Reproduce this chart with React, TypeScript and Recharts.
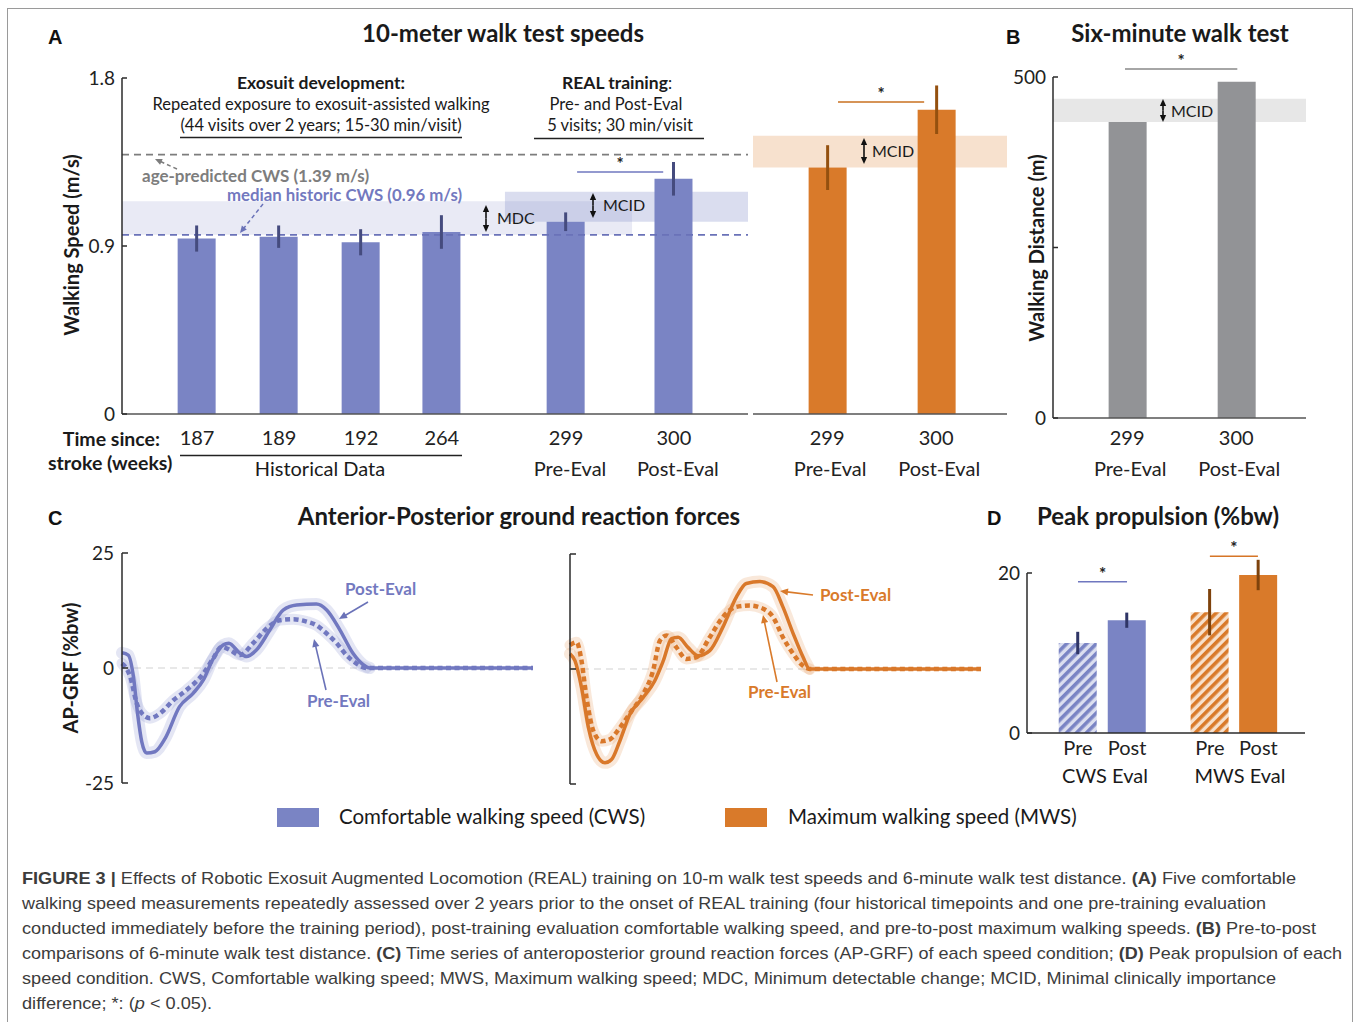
import React from 'react';
import {
  ComposedChart, LineChart, Bar, Line, XAxis, YAxis, ErrorBar, Cell,
  ReferenceLine, ReferenceArea,
} from 'recharts';

// ---------- data ----------
const cwsWeeks = ['187', '189', '192', '264', '299', '300'];
const cwsPhases = ['', '', '', '', 'Pre-Eval', 'Post-Eval'];
const cwsSpeed = [0.94, 0.95, 0.92, 0.975, 1.03, 1.26];
const cwsSpeedSd = [0.07, 0.06, 0.07, 0.09, 0.05, 0.09];

const mwsWeeks = ['299', '300'];
const mwsPhases = ['Pre-Eval', 'Post-Eval'];
const mwsSpeed = [1.32, 1.63];
const mwsSpeedSd = [0.12, 0.13];

const sixMinWeeks = ['299', '300'];
const sixMinPhases = ['Pre-Eval', 'Post-Eval'];
const sixMinDist = [434, 493];

const ageCws = 1.39;
const medianCws = 0.96;
const cwsMdcBand = [0.96, 1.14];
const cwsMcidBand = [1.03, 1.19];
const mwsMcidBand = [1.32, 1.49];
const sixMinMcidBand = [434, 468];

const peakLabels = ['Pre', 'Post', 'Pre', 'Post'];
const peakCws = [11.25, 14.1];
const peakCwsSd = [1.4, 0.95];
const peakMws = [15.1, 19.75];
const peakMwsSd = [2.9, 1.9];

// AP-GRF (%bw) over % gait cycle
const cwsPostPct = [0, 1.5, 2.8, 3.8, 4.8, 6, 8, 10.5, 14, 17.3, 19.8, 22, 24.6, 26, 28.7, 30.3, 32.7, 36, 39.2, 42.5, 47.3, 49.8, 53, 56.2, 58.7, 60.3, 100];
const cwsPostGrf = [3.3, 2.8, -2, -10, -16, -18.5, -18.2, -15.3, -8.4, -5.5, -2.6, 1.7, 5, 5.4, 3.2, 2.5, 3.9, 8.3, 12.6, 13.7, 13.9, 12.6, 8.3, 3.2, 0.7, 0, 0];
const cwsPrePct = [0, 2, 3.6, 5.2, 6.8, 9.2, 12.5, 15.7, 19.8, 22.2, 24.2, 26.3, 28.7, 31.9, 35.2, 38.4, 41.7, 44.9, 47.3, 49.8, 52.2, 54.6, 57, 59.5, 100];
const cwsPreGrf = [1, -1.9, -7.7, -10.2, -10.9, -9.9, -7, -4.8, -1.2, 2.1, 4.6, 3.9, 2.8, 5.4, 8.6, 10.4, 10.6, 10.1, 9.3, 7.5, 5.4, 2.8, 1, 0, 0];
const mwsPostPct = [0, 1.2, 2.8, 4.5, 6.5, 8.5, 10.1, 12.1, 14.6, 17.8, 20.6, 22.7, 24.7, 26.3, 28.7, 31.2, 34, 37.2, 40.5, 42.9, 46.2, 49.4, 51.8, 54.3, 56.7, 58.3, 100];
const mwsPostGrf = [3.3, 1.8, -4, -12.8, -18.6, -20.4, -19.7, -15.7, -9.8, -6.2, -2.6, 1.8, 6.6, 6.9, 4.7, 2.9, 4, 9.1, 15.7, 18.6, 19, 17.9, 13.5, 7.7, 2.6, 0, 0];
const mwsPrePct = [0, 1.6, 2.8, 4, 5.7, 7.7, 9.7, 12.1, 15, 17.8, 20.2, 21.9, 23.5, 25.9, 28.3, 30.8, 34, 37.2, 40.5, 43.7, 47, 49.4, 51.8, 54.3, 56.7, 58.3, 100];
const mwsPreGrf = [5.2, 5.8, 1.8, -6.2, -13.5, -15.7, -15.3, -12.8, -9.1, -5.5, -0.4, 6.2, 7.3, 4.7, 2.2, 2.6, 6.9, 11.3, 13.5, 13.8, 13.1, 11.3, 6.9, 3.3, 0.7, 0, 0];

// ---------- layout (bar slots on numeric axes) ----------
const SLOTS_A = [0.915, 1.915, 2.915, 3.9, 5.415, 6.73];
const SLOTS_2 = [0.68, 1.68];
const SLOTS_D = [1.04, 2.04, 3.73, 4.72];

const FONT = 'Lato, "Open Sans", "DejaVu Sans", sans-serif';
const BLUE = '#7a84c4';
const BLUE_TXT = '#7379bf';
const ORANGE = '#d97a2a';
const GRAY = '#929396';
const AXIS = { stroke: '#2b2b2b', strokeWidth: 1.5 };
const Y_TICK = { fontSize: 19, fill: '#222', fontFamily: FONT };

const cwsData = cwsWeeks.map((w, i) => ({ slot: SLOTS_A[i], speed: cwsSpeed[i], sd: cwsSpeedSd[i] }));
const mwsData = mwsWeeks.map((w, i) => ({ slot: SLOTS_2[i], speed: mwsSpeed[i], sd: mwsSpeedSd[i] }));
const sixData = sixMinWeeks.map((w, i) => ({ slot: SLOTS_2[i], dist: sixMinDist[i] }));
const peakData = peakLabels.map((l, i) => ({
  slot: SLOTS_D[i],
  value: i < 2 ? peakCws[i] : peakMws[i - 2],
  cwsSd: i < 2 ? peakCwsSd[i] : undefined,
  mwsSd: i >= 2 ? peakMwsSd[i - 2] : undefined,
}));
const peakFills = ['url(#hatchBlue)', BLUE, 'url(#hatchOrange)', ORANGE];

const pts = (pct: number[], grf: number[]) => pct.map((p, i) => ({ pct: p, grf: grf[i] }));
const cwsPost = pts(cwsPostPct, cwsPostGrf);
const cwsPre = pts(cwsPrePct, cwsPreGrf);
const mwsPost = pts(mwsPostPct, mwsPostGrf);
const mwsPre = pts(mwsPrePct, mwsPreGrf);

const star = { value: '*', position: 'top' as const, fill: '#222', fontSize: 17, fontWeight: 700, offset: 2 };

function Place({ left, top, children }: any) {
  return <div style={{ position: 'absolute', left, top }}>{children}</div>;
}

function TwoLineTick(props: any) {
  const { x, y, payload, slots, top, bottom, dy1, dy2, dx2 = 0 } = props;
  const i = slots.indexOf(payload.value);
  if (i < 0) return null;
  return (
    <g>
      <text x={x} y={y + dy1} textAnchor="middle" fontSize={20} fill="#222" fontFamily={FONT}>{top[i]}</text>
      {bottom && bottom[i] ? (
        <text x={x + dx2} y={y + dy2} textAnchor="middle" fontSize={20} fill="#222" fontFamily={FONT}>{bottom[i]}</text>
      ) : null}
    </g>
  );
}

function ChartCws() {
  return (
    <ComposedChart width={696} height={426} data={cwsData} margin={{ top: 20, right: 10, left: 0, bottom: 0 }}>
      <XAxis dataKey="slot" type="number" domain={[0, 7.634]} ticks={SLOTS_A} interval={0} height={70}
        tickLine={false} tickSize={0} tickMargin={0} axisLine={{ stroke: '#555', strokeWidth: 1.5 }}
        tick={(p: any) => <TwoLineTick {...p} slots={SLOTS_A} top={cwsWeeks} bottom={cwsPhases} dy1={31} dy2={62} dx2={4} />} />
      <YAxis type="number" domain={[0, 1.8]} ticks={[0, 0.9, 1.8]} interval={0} width={60} tickSize={-5} tickMargin={12}
        axisLine={AXIS} tickLine={AXIS} tick={Y_TICK} />
      <ReferenceArea x1={0} x2={6.22} y1={cwsMdcBand[0]} y2={cwsMdcBand[1]} fill="#9aa0d0" fillOpacity={0.22} stroke="none" />
      <ReferenceArea x1={4.67} x2={7.634} y1={cwsMcidBand[0]} y2={cwsMcidBand[1]} fill="#8d94cc" fillOpacity={0.32} stroke="none" />
      <ReferenceLine y={ageCws} stroke="#7d7d7d" strokeWidth={1.8} strokeDasharray="7 5" />
      <ReferenceLine y={medianCws} stroke="#6a72b8" strokeWidth={1.8} strokeDasharray="7 5" />
      <Bar dataKey="speed" fill={BLUE} barSize={38} isAnimationActive={false}>
        <ErrorBar dataKey="sd" width={0} stroke="#454b7e" strokeWidth={3} />
      </Bar>
      <ReferenceLine segment={[{ x: 5.55, y: 1.296 }, { x: 6.6, y: 1.296 }]} stroke="#6f77bf" strokeWidth={1.5} label={star} />
    </ComposedChart>
  );
}

function ChartMws() {
  return (
    <ComposedChart width={324} height={436} data={mwsData} margin={{ top: 30, right: 10, left: 60, bottom: 0 }}>
      <XAxis dataKey="slot" type="number" domain={[0, 2.33]} ticks={SLOTS_2} interval={0} height={70}
        tickLine={false} tickSize={0} tickMargin={0} axisLine={{ stroke: '#555', strokeWidth: 1.5 }}
        tick={(p: any) => <TwoLineTick {...p} slots={SLOTS_2} top={mwsWeeks} bottom={mwsPhases} dy1={31} dy2={62} dx2={3} />} />
      <YAxis type="number" domain={[0, 1.8]} hide />
      <ReferenceArea y1={mwsMcidBand[0]} y2={mwsMcidBand[1]} fill="#e59a5c" fillOpacity={0.3} stroke="none" />
      <Bar dataKey="speed" fill={ORANGE} barSize={38} isAnimationActive={false}>
        <ErrorBar dataKey="sd" width={0} stroke="#94500f" strokeWidth={3} />
      </Bar>
      <ReferenceLine segment={[{ x: 0.78, y: 1.671 }, { x: 1.57, y: 1.671 }]} stroke="#c8701f" strokeWidth={1.5} label={star} />
    </ComposedChart>
  );
}

function ChartSix() {
  return (
    <ComposedChart width={323} height={451} data={sixData} margin={{ top: 40, right: 10, left: 0, bottom: 0 }}>
      <XAxis dataKey="slot" type="number" domain={[0, 2.32]} ticks={SLOTS_2} interval={0} height={70}
        tickLine={false} tickSize={0} tickMargin={0} axisLine={{ stroke: '#555', strokeWidth: 1.5 }}
        tick={(p: any) => <TwoLineTick {...p} slots={SLOTS_2} top={sixMinWeeks} bottom={sixMinPhases} dy1={27} dy2={58} dx2={3} />} />
      <YAxis type="number" domain={[0, 500]} ticks={[0, 250, 500]} interval={0} width={60} tickSize={-5} tickMargin={12}
        axisLine={AXIS} tickLine={AXIS} tick={Y_TICK} tickFormatter={(v: number) => (v === 250 ? '' : String(v))} />
      <ReferenceArea y1={sixMinMcidBand[0]} y2={sixMinMcidBand[1]} fill="#888" fillOpacity={0.2} stroke="none" />
      <Bar dataKey="dist" fill={GRAY} barSize={38} isAnimationActive={false} />
      <ReferenceLine segment={[{ x: 0.66, y: 511.7 }, { x: 1.69, y: 511.7 }]} stroke="#888" strokeWidth={1.5}
        ifOverflow="visible" label={star} />
    </ComposedChart>
  );
}

function ChartPeak() {
  return (
    <ComposedChart width={348} height={250} data={peakData} margin={{ top: 30, right: 10, left: 0, bottom: 0 }}>
      <defs>
        <pattern id="hatchBlue" width="7" height="7" patternUnits="userSpaceOnUse" patternTransform="rotate(45)">
          <rect width="7" height="7" fill="#dcdff0" />
          <rect width="3.6" height="7" fill={BLUE} />
        </pattern>
        <pattern id="hatchOrange" width="7" height="7" patternUnits="userSpaceOnUse" patternTransform="rotate(45)">
          <rect width="7" height="7" fill="#f7e0cb" />
          <rect width="3.6" height="7" fill={ORANGE} />
        </pattern>
      </defs>
      <XAxis dataKey="slot" type="number" domain={[0, 5.67]} ticks={SLOTS_D} interval={0} height={40}
        tickLine={false} tickSize={0} tickMargin={0} axisLine={AXIS}
        tick={(p: any) => <TwoLineTick {...p} slots={SLOTS_D} top={peakLabels} dy1={22} />} />
      <YAxis type="number" domain={[0, 22.5]} ticks={[0, 20]} interval={0} width={60} tickSize={-5} tickMargin={12}
        axisLine={false} tickLine={AXIS} tick={Y_TICK} />
      <ReferenceLine segment={[{ x: 0, y: 0 }, { x: 0, y: 20 }]} stroke="#2b2b2b" strokeWidth={1.5} />
      <Bar dataKey="value" barSize={38} isAnimationActive={false}>
        {peakData.map((d, i) => <Cell key={i} fill={peakFills[i]} />)}
        <ErrorBar dataKey="cwsSd" width={0} stroke="#2f3566" strokeWidth={3} />
        <ErrorBar dataKey="mwsSd" width={0} stroke="#7e420c" strokeWidth={3} />
      </Bar>
      <ReferenceLine segment={[{ x: 1.04, y: 18.9 }, { x: 2.04, y: 18.9 }]} stroke="#6f77bf" strokeWidth={1.5} label={star} />
      <ReferenceLine segment={[{ x: 3.73, y: 22.1 }, { x: 4.71, y: 22.1 }]} stroke="#d67526" strokeWidth={1.5} label={star} />
    </ComposedChart>
  );
}

function ChartGrf({ post, pre, color, band, labels }: any) {
  // SD shading only over stance (drop the flat swing endpoint)
  const preBand = pre.slice(0, -1);
  const postBand = post.slice(0, -1);
  return (
    <LineChart width={481} height={260} margin={{ top: 20, right: 10, left: 0, bottom: 10 }}>
      <XAxis dataKey="pct" type="number" domain={[0, 100]} hide />
      <YAxis type="number" domain={[-25, 25]} ticks={[-25, 0, 25]} interval={0} width={60} tickSize={-6} tickMargin={14}
        axisLine={AXIS} tickLine={AXIS} tick={Y_TICK} tickFormatter={(v: number) => (labels ? String(v) : '')} />
      <ReferenceLine y={0} stroke="#d2d2d2" strokeWidth={1.2} strokeDasharray="7 5" />
      <Line data={preBand} dataKey="grf" type="monotone" stroke={band} strokeOpacity={0.24} strokeWidth={11}
        strokeLinecap="round" dot={false} isAnimationActive={false} />
      <Line data={postBand} dataKey="grf" type="monotone" stroke={band} strokeOpacity={0.24} strokeWidth={12}
        strokeLinecap="round" dot={false} isAnimationActive={false} />
      <Line data={post} dataKey="grf" type="monotone" stroke={color} strokeWidth={3.5} dot={false} isAnimationActive={false} />
      <Line data={pre} dataKey="grf" type="monotone" stroke={color} strokeWidth={4.5} strokeDasharray="5 3.5"
        dot={false} isAnimationActive={false} />
    </LineChart>
  );
}

function Arrow({ x1, y1, x2, y2, color, dash, w = 1.6, size = 8 }: any) {
  const dx = x2 - x1;
  const dy = y2 - y1;
  const L = Math.hypot(dx, dy);
  const ux = dx / L;
  const uy = dy / L;
  const bx = x2 - ux * size;
  const by = y2 - uy * size;
  const px = -uy * size * 0.45;
  const py = ux * size * 0.45;
  return (
    <g>
      <line x1={x1} y1={y1} x2={bx + ux} y2={by + uy} stroke={color} strokeWidth={w} strokeDasharray={dash} />
      <polygon points={`${x2},${y2} ${bx + px},${by + py} ${bx - px},${by - py}`} fill={color} />
    </g>
  );
}

function DoubleArrow({ x, y1, y2 }: any) {
  const m = (y1 + y2) / 2;
  return (
    <g>
      <Arrow x1={x} y1={m} x2={x} y2={y1} color="#111" size={7} w={1.6} />
      <Arrow x1={x} y1={m} x2={x} y2={y2} color="#111" size={7} w={1.6} />
    </g>
  );
}

const captionLines: [string, string][][] = [
  [['FIGURE 3 | ', 'b'], ['Effects of Robotic Exosuit Augmented Locomotion (REAL) training on 10-m walk test speeds and 6-minute walk test distance. ', ''], ['(A)', 'b'], [' Five comfortable', '']],
  [['walking speed measurements repeatedly assessed over 2 years prior to the onset of REAL training (four historical timepoints and one pre-training evaluation', '']],
  [['conducted immediately before the training period), post-training evaluation comfortable walking speed, and pre-to-post maximum walking speeds. ', ''], ['(B)', 'b'], [' Pre-to-post', '']],
  [['comparisons of 6-minute walk test distance. ', ''], ['(C)', 'b'], [' Time series of anteroposterior ground reaction forces (AP-GRF) of each speed condition; ', ''], ['(D)', 'b'], [' Peak propulsion of each', '']],
  [['speed condition. CWS, Comfortable walking speed; MWS, Maximum walking speed; MDC, Minimum detectable change; MCID, Minimal clinically importance', '']],
  [['difference; *: (', ''], ['p', 'i'], [' < 0.05).', '']],
];
const captionWidths = [1274, 1244, 1294, 1320, 1254, 190];

function Overlay() {
  const t = { fontFamily: FONT, fill: '#1a1a1a' };
  const title = { ...t, fontSize: 24, fontWeight: 700, textAnchor: 'middle' as const };
  const letter = { fontFamily: '"Liberation Sans", Arial, sans-serif', fontSize: 20, fontWeight: 700, fill: '#111' };
  const note = { ...t, fontSize: 16.5, textAnchor: 'middle' as const };
  const axTitle = { ...t, fontSize: 20, fontWeight: 700, textAnchor: 'middle' as const };
  const lbl = { ...t, fontSize: 20, textAnchor: 'middle' as const };
  return (
    <svg width={1358} height={1022} style={{ position: 'absolute', left: 0, top: 0, pointerEvents: 'none' }}>
      <rect x={7.5} y={8.5} width={1345} height={1020} fill="none" stroke="#9a9a9a" strokeWidth={1} />

      <text x={48} y={44} {...letter}>A</text>
      <text x={1006} y={44} {...letter}>B</text>
      <text x={48} y={525} {...letter}>C</text>
      <text x={987} y={525} {...letter}>D</text>

      <text x={503} y={42} {...title}>10-meter walk test speeds</text>
      <text x={1180} y={42} {...title}>Six-minute walk test</text>
      <text x={519} y={525} {...title}>Anterior-Posterior ground reaction forces</text>
      <text x={1158} y={525} {...title}>Peak propulsion (%bw)</text>

      <text x={79} y={245} transform="rotate(-90 79 245)" {...axTitle}>Walking Speed (m/s)</text>
      <text x={1044} y={248} transform="rotate(-90 1044 248)" {...axTitle}>Walking Distance (m)</text>
      <text x={78} y={668} transform="rotate(-90 78 668)" {...axTitle}>AP-GRF (%bw)</text>

      {/* panel A notes */}
      <text x={321} y={89} {...note} fontSize={17.5} fontWeight={700}>Exosuit development:</text>
      <text x={321} y={110} {...note}>Repeated exposure to exosuit-assisted walking</text>
      <text x={321} y={131} {...note}>(44 visits over 2 years; 15-30 min/visit)</text>
      <line x1={180} y1={137.5} x2={462} y2={137.5} stroke="#222" strokeWidth={1.5} />
      <text x={617} y={89} {...note}><tspan fontWeight={700} fontSize={17.5}>REAL training</tspan>:</text>
      <text x={616} y={110} {...note}>Pre- and Post-Eval</text>
      <text x={620} y={131} {...note}>5 visits; 30 min/visit</text>
      <line x1={534} y1={138.5} x2={704} y2={138.5} stroke="#222" strokeWidth={1.5} />

      <text x={142} y={182} fontFamily={FONT} fontSize={17} fontWeight={700} fill="#7d7d7d">age-predicted CWS (1.39 m/s)</text>
      <text x={227} y={201} fontFamily={FONT} fontSize={16.8} fontWeight={700} fill={BLUE_TXT}>median historic CWS (0.96 m/s)</text>
      <Arrow x1={177} y1={169} x2={155} y2={159} color="#7d7d7d" dash="4 3" size={7} w={1.5} />
      <Arrow x1={263} y1={204} x2={240} y2={233} color="#6a72b8" dash="4 3" size={7} w={1.5} />

      <DoubleArrow x={486} y1={205} y2={232} />
      <text x={497} y={224} fontFamily={FONT} fontSize={16} fill="#1a1a1a">MDC</text>
      <DoubleArrow x={593} y1={193} y2={218} />
      <text x={603} y={211} fontFamily={FONT} fontSize={16} fill="#1a1a1a">MCID</text>
      <DoubleArrow x={864} y1={138} y2={164} />
      <text x={872} y={157} fontFamily={FONT} fontSize={16} fill="#1a1a1a">MCID</text>
      <DoubleArrow x={1163} y1={99} y2={122} />
      <text x={1171} y={117} fontFamily={FONT} fontSize={16} fill="#1a1a1a">MCID</text>

      {/* panel A x labels */}
      <text x={160} y={446} textAnchor="end" fontFamily={FONT} fontSize={19.5} fontWeight={700} fill="#1a1a1a">Time since:</text>
      <text x={48} y={470} fontFamily={FONT} fontSize={19.5} fontWeight={700} fill="#1a1a1a">stroke (weeks)</text>
      <line x1={180} y1={455.5} x2={462} y2={455.5} stroke="#222" strokeWidth={1.5} />
      <text x={320} y={476} {...lbl}>Historical Data</text>

      {/* panel C notes */}
      <text x={345} y={595} fontFamily={FONT} fontSize={17} fontWeight={700} fill={BLUE_TXT}>Post-Eval</text>
      <Arrow x1={368} y1={602} x2={339} y2={619} color="#6a72b8" size={8} w={1.6} />
      <text x={307} y={707} fontFamily={FONT} fontSize={17} fontWeight={700} fill={BLUE_TXT}>Pre-Eval</text>
      <Arrow x1={326} y1={690} x2={314} y2={639} color="#6a72b8" size={8} w={1.6} />
      <text x={820} y={601} fontFamily={FONT} fontSize={17} fontWeight={700} fill={ORANGE}>Post-Eval</text>
      <Arrow x1={813} y1={595} x2={780} y2={591} color={ORANGE} size={8} w={1.6} />
      <text x={748} y={698} fontFamily={FONT} fontSize={17} fontWeight={700} fill={ORANGE}>Pre-Eval</text>
      <Arrow x1={777} y1={682} x2={763} y2={615} color={ORANGE} size={8} w={1.6} />

      {/* panel D group labels */}
      <text x={1105} y={783} {...lbl}>CWS Eval</text>
      <text x={1240} y={783} {...lbl}>MWS Eval</text>

      {/* legend */}
      <rect x={277} y={808} width={42} height={19} fill={BLUE} />
      <text x={339} y={824} fontFamily={FONT} fontSize={20.5} fill="#1a1a1a">Comfortable walking speed (CWS)</text>
      <rect x={725} y={808} width={42} height={19} fill={ORANGE} />
      <text x={788} y={824} fontFamily={FONT} fontSize={20.5} fill="#1a1a1a">Maximum walking speed (MWS)</text>

      {/* caption */}
      {captionLines.map((segs, li) => (
        <text key={li} x={22} y={884 + li * 25} textLength={captionWidths[li]} lengthAdjust="spacingAndGlyphs"
          fontFamily='"Liberation Sans Narrow", "Liberation Sans", Arial, sans-serif' fontSize={17} fill="#3c3c3c">
          {segs.map(([s, st], si) => (
            <tspan key={si} fontWeight={st === 'b' ? 700 : 400} fontStyle={st === 'i' ? 'italic' : 'normal'}>{s}</tspan>
          ))}
        </text>
      ))}
    </svg>
  );
}

export default function App() {
  return (
    <div style={{ position: 'absolute', left: 0, top: 0, width: 1358, height: 1022, background: '#fff', overflow: 'hidden', fontFamily: FONT }}>
      <Place left={62} top={58}><ChartCws /></Place>
      <Place left={693} top={48}><ChartMws /></Place>
      <Place left={993} top={37}><ChartSix /></Place>
      <Place left={967} top={523}><ChartPeak /></Place>
      <Place left={62} top={533}>
        <ChartGrf post={cwsPost} pre={cwsPre} color="#7178c0" band="#8f96cf" labels />
      </Place>
      <Place left={510} top={534}>
        <ChartGrf post={mwsPost} pre={mwsPre} color="#d9782a" band="#e8a066" labels={false} />
      </Place>
      <Overlay />
    </div>
  );
}
